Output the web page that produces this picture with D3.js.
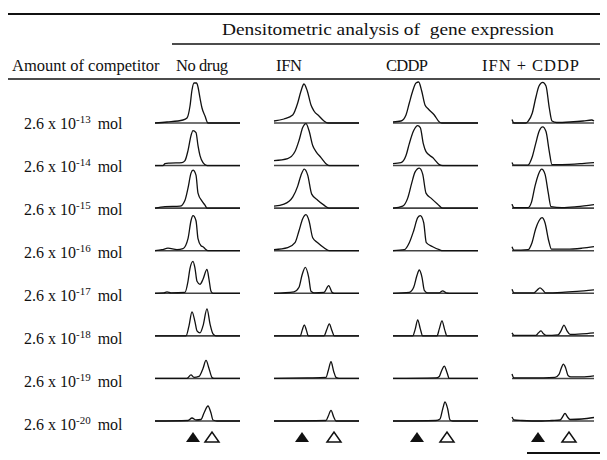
<!DOCTYPE html>
<html>
<head>
<meta charset="utf-8">
<script src="https://cdn.jsdelivr.net/npm/d3@7"></script>
<style>
  html, body { margin: 0; padding: 0; background: #fff; }
  text { font-family: 'Liberation Serif', 'Times New Roman', serif; fill: #111; }
</style>
</head>
<body>
<div id="chart"></div>
<script>
const width = 607;
const height = 460;

const columns = ['No drug', 'IFN', 'CDDP', 'IFN + CDDP'];
const exponents = ['-13', '-14', '-15', '-16', '-17', '-18', '-19', '-20'];

// densitometer traces: [position along the lane, peak height]
const noDrug = [
  [[0, 0], [12, 1], [28, 3], [32, 5], [35, 17], [37, 33], [39, 40], [41.5, 40], [43, 36], [45, 25], [47, 15], [50, 7], [53, 0], [85, 0]],
  [[0, 0], [8, 0], [10, 2], [15, 2.5], [27, 3], [30, 5], [33, 15], [36, 30], [38, 35], [41, 33], [43, 20], [45, 10], [48, 3], [52, 0], [85, 0]],
  [[0, 0], [10, 1.5], [25, 2], [30, 8], [33, 20], [36, 35], [38, 38], [41, 33], [43, 15], [47, 7], [50, 3], [52, 0], [85, 0]],
  [[0, 0], [7, 1], [13, 2.5], [22, 1], [28, 2], [33, 12], [36, 30], [38, 35], [41, 30], [43, 12], [46, 5], [48, 4], [50, 2], [53, 0], [85, 0]],
  [[0, 0], [9, 0.5], [12, 1.5], [16, 0.5], [30, 1], [33, 12], [35, 25], [38, 32], [40, 25], [42, 12], [45, 9], [48, 14], [52, 24], [54, 14], [56, 2], [58, 0], [85, 0]],
  [[0, 0], [31, 0], [34, 10], [37, 24], [40, 14], [42, 5], [45, 3], [48, 10], [52, 27], [55, 12], [58, 2], [61, 0], [85, 0]],
  [[0, 0], [32, 0], [36, 3.5], [39, 1], [44, 2], [48, 10], [51, 18], [54, 10], [57, 1], [59, 0], [85, 0]],
  [[0, 0], [33, 0.5], [37, 3], [41, 1], [46, 1.5], [49, 8], [53, 15], [56, 8], [58, 1], [62, 0], [85, 0]],
];

const ifn = [
  [[0, 2], [10, 4], [18.7, 8], [23.7, 20], [27, 32], [30, 39], [33.3, 32], [37, 18], [40, 12], [45, 7], [50, 2], [54, 0], [85, 0]],
  [[0, 5], [13.7, 7], [21, 14], [25, 25], [28.7, 38], [32, 42], [35, 35], [38.7, 20], [42, 14], [47, 8], [53, 1], [55, 0], [85, 0]],
  [[0, 2], [10, 4], [18.7, 11], [23.7, 22], [27, 33], [30.3, 39], [33.7, 33], [37.7, 14], [43.7, 8], [50, 3], [55, 0], [85, 0]],
  [[0, 1], [13.7, 3], [21, 8], [25, 20], [28.7, 32], [32, 36], [35, 30], [38.7, 13], [43.7, 8], [50, 3], [55, 0], [85, 0]],
  [[0, 0], [20, 1.5], [25, 6], [28, 18], [31.3, 26], [34.7, 16], [37, 2], [40, 0.5], [50, 1], [54.7, 7.7], [58, 1], [60, 0], [85, 0]],
  [[0, 0], [26.3, 0], [28.3, 6], [30.3, 11], [32.3, 6], [34.3, 0], [50, 0], [52.7, 6], [55.3, 12], [58, 5], [60.3, 0], [85, 0]],
  [[0, 0], [33.7, 0.5], [52, 1], [54.3, 8], [57, 16.7], [59.7, 7], [62, 1], [65.3, 0], [85, 0]],
  [[0, 0], [52, 0.5], [54.3, 5], [57, 10.7], [59.7, 4], [62, 0], [85, 0]],
];

const cddp = [
  [[0, 1], [8, 2], [13, 8], [16.3, 20], [19.7, 32], [23, 40], [25.7, 41], [28.7, 32], [32, 18], [35.3, 14], [41.3, 8], [46.3, 1], [48.7, 0], [85, 0]],
  [[0, 2], [8, 3], [13, 10], [16.3, 22], [20.7, 35], [24.7, 40], [27.3, 38], [30.3, 22], [33, 14], [39.7, 8], [46.3, 1], [49.7, 0], [85, 0]],
  [[0, 0], [9.7, 2], [14.7, 10], [18.7, 25], [22, 36], [26.3, 40], [29.7, 34], [33, 15], [38, 10], [44.7, 4], [49.7, 0], [85, 0]],
  [[0, 0], [11.3, 1], [16.3, 8], [20.7, 20], [24.7, 33], [27.3, 35], [30.7, 28], [33.3, 8], [39.7, 4], [46.3, 1], [49.7, 0], [85, 0]],
  [[0, 0], [16.3, 1], [20.7, 6], [23.7, 17], [26.3, 23.3], [29, 16], [31.3, 3], [34.7, 0.5], [46.3, 0.5], [49.7, 2.5], [53, 0.5], [56.3, 0], [85, 0]],
  [[0, 0], [19.7, 0], [22.3, 7], [24.7, 16], [27.3, 7], [29.7, 0], [44, 0], [46.3, 7], [49, 15], [51.7, 6], [54, 0], [85, 0]],
  [[0, 0], [43, 0.5], [46.3, 2], [48.7, 8], [51.3, 12.3], [54, 6], [56.3, 0], [85, 0]],
  [[0, 0], [43, 0.5], [47, 2], [49.7, 12], [52, 19], [54.7, 12], [57, 1], [59.7, 0], [85, 0]],
];

const ifnCddp = [
  [[0, 3.5], [2, 0], [14, 0], [16.3, 2], [20.3, 10], [23.7, 25], [27, 37], [30.7, 40.7], [34, 37], [37.3, 15], [40, 2], [44.7, 0.5], [58, 1], [71.3, 2], [79.7, 3], [82, 2]],
  [[0, 3], [1.5, 0.5], [16, 0.5], [20, 8], [23.7, 22], [27, 34], [30.7, 38.7], [34, 34], [37.3, 14], [40, 1], [50, 1], [70, 2], [82, 3]],
  [[0, 4], [2, 0.5], [16, 0.5], [19.5, 6], [23, 22], [26.5, 34], [29.7, 39], [33, 34], [36.3, 15], [39, 1.5], [50, 0.5], [65, 1.5], [82, 3.5]],
  [[0, 4], [2, 0.5], [16, 1], [20, 8], [23.7, 22], [27, 30], [30, 33], [33, 28], [36.7, 10], [39.5, 1.5], [55, 1.5], [70, 2.5], [82, 4]],
  [[0, 4], [2, 0.5], [22, 0.5], [25, 3], [28, 5.5], [31, 3], [33.5, 0.5], [50, 1], [65, 2], [82, 3.5]],
  [[0, 3], [2, 0.5], [24, 0.5], [26.5, 3], [29, 5], [31.5, 2], [34, 0.5], [46, 1], [49, 5], [52, 10.7], [55, 5], [58, 1.5], [70, 2], [82, 3]],
  [[0, 4.5], [2, 0.5], [20, 0.5], [43, 1], [47, 4], [49.5, 11], [51.3, 14.3], [53.5, 11], [56, 3], [59, 1.5], [70, 1.5], [82, 2.5]],
  [[0, 4], [2, 1], [10, 0.5], [30, 0], [40, 0.5], [48, 1], [50.5, 4], [53, 7.7], [55.5, 4], [58, 1.5], [70, 2], [82, 3.5]],
];

// where the target (filled) and competitor (open) bands sit along each lane
const targetPeak = [38, 28, 24, 26];
const competitorPeak = [57, 60, 54, 57];

const traces = [noDrug, ifn, cddp, ifnCddp];

const svg = d3.select('#chart')
  .append('svg')
  .attr('width', width)
  .attr('height', height);

svg.append('rect').attr('width', width).attr('height', height).attr('fill', '#fff');

// table rules
const rules = [
  { x1: 8, x2: 600, y: 14, w: 2 },
  { x1: 172, x2: 600, y: 44, w: 1.5 },
  { x1: 8, x2: 600, y: 79, w: 1.5 },
  { x1: 527, x2: 600, y: 453, w: 2 },
];
svg.append('g')
  .selectAll('line')
  .data(rules)
  .enter()
  .append('line')
  .attr('x1', (d) => d.x1)
  .attr('x2', (d) => d.x2)
  .attr('y1', (d) => d.y)
  .attr('y2', (d) => d.y)
  .attr('stroke', '#111')
  .attr('stroke-width', (d) => d.w);

svg.append('text')
  .attr('x', 222)
  .attr('y', 35)
  .attr('textLength', 332)
  .attr('lengthAdjust', 'spacingAndGlyphs')
  .style('font-size', '17.5px')
  .style('white-space', 'pre')
  .text('Densitometric analysis of  gene expression');

svg.append('text')
  .attr('x', 12)
  .attr('y', 71)
  .style('font-size', '16.5px')
  .text('Amount of competitor');

// header start and width as laid out in the scan
const headerX = [176, 276, 386, 482];
const headerW = [52, 26, 42, 97];
svg.append('g')
  .selectAll('text')
  .data(columns)
  .enter()
  .append('text')
  .attr('x', (d, i) => headerX[i])
  .attr('y', 71)
  .attr('textLength', (d, i) => headerW[i])
  .attr('lengthAdjust', 'spacing')
  .style('font-size', '16.5px')
  .style('white-space', 'pre')
  .text((d) => d);

// scales
const colScale = d3.scalePoint().domain(columns).range([155, 512]);
const rowScale = d3.scaleLinear().domain([0, exponents.length - 1]).range([123, 421]);
const labelScale = d3.scaleLinear().domain([0, exponents.length - 1]).range([129, 430]);
const hScale = d3.scaleLinear().domain([0, 40]).range([0, -40]);

// row labels
const labels = svg.append('g')
  .selectAll('text')
  .data(exponents)
  .enter()
  .append('text')
  .attr('x', 24)
  .attr('y', (d, i) => labelScale(i))
  .style('font-size', '16px');
labels.append('tspan').text('2.6 x 10');
labels.append('tspan')
  .attr('dy', -6)
  .style('font-size', '11px')
  .text((d) => d);
labels.append('tspan')
  .attr('dy', 6)
  .attr('dx', 7)
  .text('mol');

// lanes
columns.forEach((col, c) => {
  const x0 = colScale(col);
  const xScale = d3.scaleLinear().domain([0, 85]).range([x0, x0 + 85]);
  const line = d3.line()
    .x((d) => xScale(d[0]))
    .y((d) => hScale(d[1]))
    .curve(d3.curveMonotoneX);

  const lane = svg.append('g').attr('class', 'lane');

  lane.selectAll('g')
    .data(traces[c])
    .enter()
    .append('g')
    .attr('transform', (d, i) => `translate(0, ${rowScale(i)})`)
    .each(function (d) {
      const g = d3.select(this);
      g.append('line')
        .attr('x1', xScale(d[0][0]))
        .attr('x2', xScale(d[d.length - 1][0]))
        .attr('stroke', '#444')
        .attr('stroke-width', 1.6);
      g.append('path')
        .attr('d', line(d))
        .attr('fill', 'none')
        .attr('stroke', '#111')
        .attr('stroke-width', 1.3);
    });

  // band markers under the last row
  const tri = (cx, cy) => `M${cx - 7},${cy + 5}L${cx},${cy - 5}L${cx + 7},${cy + 5}Z`;
  lane.append('path')
    .attr('d', tri(xScale(targetPeak[c]), 437))
    .attr('fill', '#111');
  lane.append('path')
    .attr('d', tri(xScale(competitorPeak[c]), 437))
    .attr('fill', 'none')
    .attr('stroke', '#111')
    .attr('stroke-width', 1.5);
});
</script>
</body>
</html>
